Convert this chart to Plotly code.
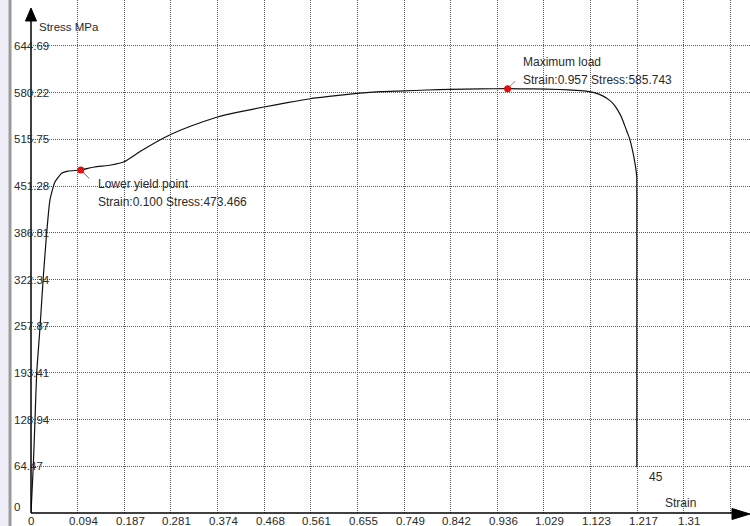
import plotly.graph_objects as go

# ---- data -------------------------------------------------------------
strain = [0, 0.0046, 0.008, 0.0114, 0.018, 0.0247, 0.0315, 0.038, 0.048,
          0.0616, 0.0743, 0.100, 0.127, 0.1605, 0.1871, 0.2206, 0.2673,
          0.3008, 0.3342, 0.3743, 0.421, 0.4677, 0.5146, 0.5613, 0.608,
          0.6549, 0.7016, 0.7483, 0.7951, 0.8418, 0.9019, 0.957, 1.01,
          1.062, 1.095, 1.118, 1.134, 1.148, 1.162, 1.171, 1.1785, 1.186,
          1.192, 1.197, 1.202, 1.2085, 1.2125, 1.2155, 1.2165, 1.2165]
stress = [0, 65, 128, 193, 255, 326, 387, 432, 457, 469, 472, 473.466,
          477.6, 480.4, 484.9, 499.7, 518.1, 528.7, 537.4, 546.7, 554.0,
          560.5, 566.4, 571.9, 575.7, 579.2, 581.6, 582.6, 583.9, 584.8,
          585.5, 585.743, 585.4, 584.6, 583.4, 582.0, 579.6, 575.8, 569.6,
          563.5, 555.8, 546.0, 535.1, 526.0, 516.8, 498.4, 484.0, 470.0,
          462.0, 63.0]

yield_strain, yield_stress = 0.100, 473.466
max_strain, max_stress = 0.957, 585.743
specimen_id = "45"

x_tick_labels = ["0", "0.094", "0.187", "0.281", "0.374", "0.468", "0.561",
                 "0.655", "0.749", "0.842", "0.936", "1.029", "1.123",
                 "1.217", "1.31"]
x_grid_extra = [1.404]
y_tick_labels = ["0", "64.47", "128.94", "193.41", "257.87", "322.34",
                 "386.81", "451.28", "515.75", "580.22", "644.69"]

# ---- geometry ---------------------------------------------------------
W, H = 750, 526
ML, MB = 31, 13                # axis origin sits at (31, 513) px
PW, PH = W - ML, H - MB
XPX, YPX = 498.0, 0.7244       # pixels per unit strain / per MPa
X_MAX, Y_MAX = PW / XPX, PH / YPX

FONT = "Liberation Sans, Arial, sans-serif"
TXT = "#2a2a2a"


def px(xp):
    return (xp - ML) / PW


def py(yp):
    return (H - MB - yp) / PH


def f(size):
    return dict(family=FONT, size=size, color=TXT)


x_ticks = [float(t) for t in x_tick_labels]
y_ticks = [float(t) for t in y_tick_labels]

fig = go.Figure()

fig.add_trace(go.Scatter(x=strain, y=stress, mode="lines",
                         line=dict(color="#111111", width=1.2,
                                   shape="spline", smoothing=0.5),
                         hoverinfo="skip", showlegend=False))
fig.add_trace(go.Scatter(x=[yield_strain, max_strain],
                         y=[yield_stress, max_stress], mode="markers",
                         marker=dict(color="#e01010", size=7),
                         hoverinfo="skip", showlegend=False))

ann = []
# tick labels (x labels sit in the thin strip under the axis)
for v, t in zip(x_ticks, x_tick_labels):
    ann.append(dict(x=v, y=0, xref="x", yref="y", text=t, showarrow=False,
                    xanchor="center", yanchor="top", borderpad=0,
                    xshift=0 if v == 0 else 6, yshift=-0.5, font=f(11.5)))
for v, t in zip(y_ticks, y_tick_labels):
    ann.append(dict(x=0, y=v, xref="x", yref="y", text=t, showarrow=False,
                    xanchor="left", yanchor="middle", xshift=-19,
                    yshift=6 if v == 0 else 0, font=f(11.5)))

# leader lines for the marked points
ann.append(dict(x=yield_strain, y=yield_stress, xref="x", yref="y", text="",
                showarrow=True, arrowhead=0, arrowwidth=1,
                arrowcolor="#c43a3a", ax=10, ay=10, standoff=3))
ann.append(dict(x=max_strain, y=max_stress, xref="x", yref="y", text="",
                showarrow=True, arrowhead=0, arrowwidth=1,
                arrowcolor="#d06060", ax=9, ay=-9, standoff=3))

# point descriptions
ann += [
    dict(x=yield_strain, y=yield_stress, xref="x", yref="y",
         text="Lower yield point", showarrow=False, xanchor="left",
         yanchor="middle", xshift=15, yshift=-14, font=f(12)),
    dict(x=yield_strain, y=yield_stress, xref="x", yref="y",
         text=f"Strain:{yield_strain:.3f} Stress:{yield_stress:.3f}",
         showarrow=False, xanchor="left", yanchor="middle",
         xshift=15, yshift=-32, font=f(12)),
    dict(x=max_strain, y=max_stress, xref="x", yref="y",
         text="Maximum load", showarrow=False, xanchor="left",
         yanchor="middle", xshift=13, yshift=27, font=f(12)),
    dict(x=max_strain, y=max_stress, xref="x", yref="y",
         text=f"Strain:{max_strain:.3f} Stress:{max_stress:.3f}",
         showarrow=False, xanchor="left", yanchor="middle",
         xshift=13, yshift=9, font=f(12)),
    dict(x=strain[-1], y=stress[-1], xref="x", yref="y", text=specimen_id,
         showarrow=False, xanchor="left", yanchor="middle",
         xshift=10, yshift=-10, font=f(12)),
    dict(x=px(37), y=py(27), xref="paper", yref="paper", text="Stress MPa",
         showarrow=False, xanchor="left", yanchor="middle", font=f(11.5)),
    dict(x=px(663), y=py(503), xref="paper", yref="paper", text="Strain",
         showarrow=False, xanchor="left", yanchor="middle", font=f(12)),
]

shapes = [
    # frame strip at the far left
    dict(type="rect", xref="paper", yref="paper", x0=px(0), x1=px(8.5),
         y0=py(H), y1=py(0), fillcolor="#eeedf8", line=dict(width=0),
         layer="below"),
    dict(type="line", xref="paper", yref="paper", x0=px(10), x1=px(10),
         y0=py(H), y1=py(0), line=dict(color="#9a9a9a", width=3)),
    # axes with arrow heads
    dict(type="line", xref="paper", yref="paper", x0=px(31), x1=px(31),
         y0=py(513), y1=py(18), line=dict(color="#000000", width=1.5)),
    dict(type="path", xref="paper", yref="paper",
         path=f"M {px(31)},{py(8)} L {px(25.5)},{py(21)} "
              f"L {px(36.5)},{py(21)} Z",
         fillcolor="#000000", line=dict(color="#000000", width=1)),
    dict(type="line", xref="paper", yref="paper", x0=px(31), x1=px(735),
         y0=py(513), y1=py(513), line=dict(color="#000000", width=1.5)),
    dict(type="path", xref="paper", yref="paper",
         path=f"M {px(750)},{py(514)} L {px(732)},{py(508.5)} "
              f"L {px(732)},{py(519.5)} Z",
         fillcolor="#000000", line=dict(color="#000000", width=1)),
]

fig.update_layout(
    width=W, height=H,
    margin=dict(l=ML, r=0, t=0, b=MB, pad=0),
    paper_bgcolor="#ffffff", plot_bgcolor="#ffffff",
    showlegend=False,
    annotations=ann, shapes=shapes,
    xaxis=dict(range=[0, X_MAX], tickvals=x_ticks[1:] + x_grid_extra,
               showticklabels=False, ticks="", showline=False,
               zeroline=False, showgrid=True, gridcolor="#5a5a5a",
               griddash="1px,1px", gridwidth=1, fixedrange=True),
    yaxis=dict(range=[0, Y_MAX], tickvals=y_ticks[1:],
               showticklabels=False, ticks="", showline=False,
               zeroline=False, showgrid=True, gridcolor="#5a5a5a",
               griddash="1px,1px", gridwidth=1, fixedrange=True),
)

fig.write_html("out.html")
